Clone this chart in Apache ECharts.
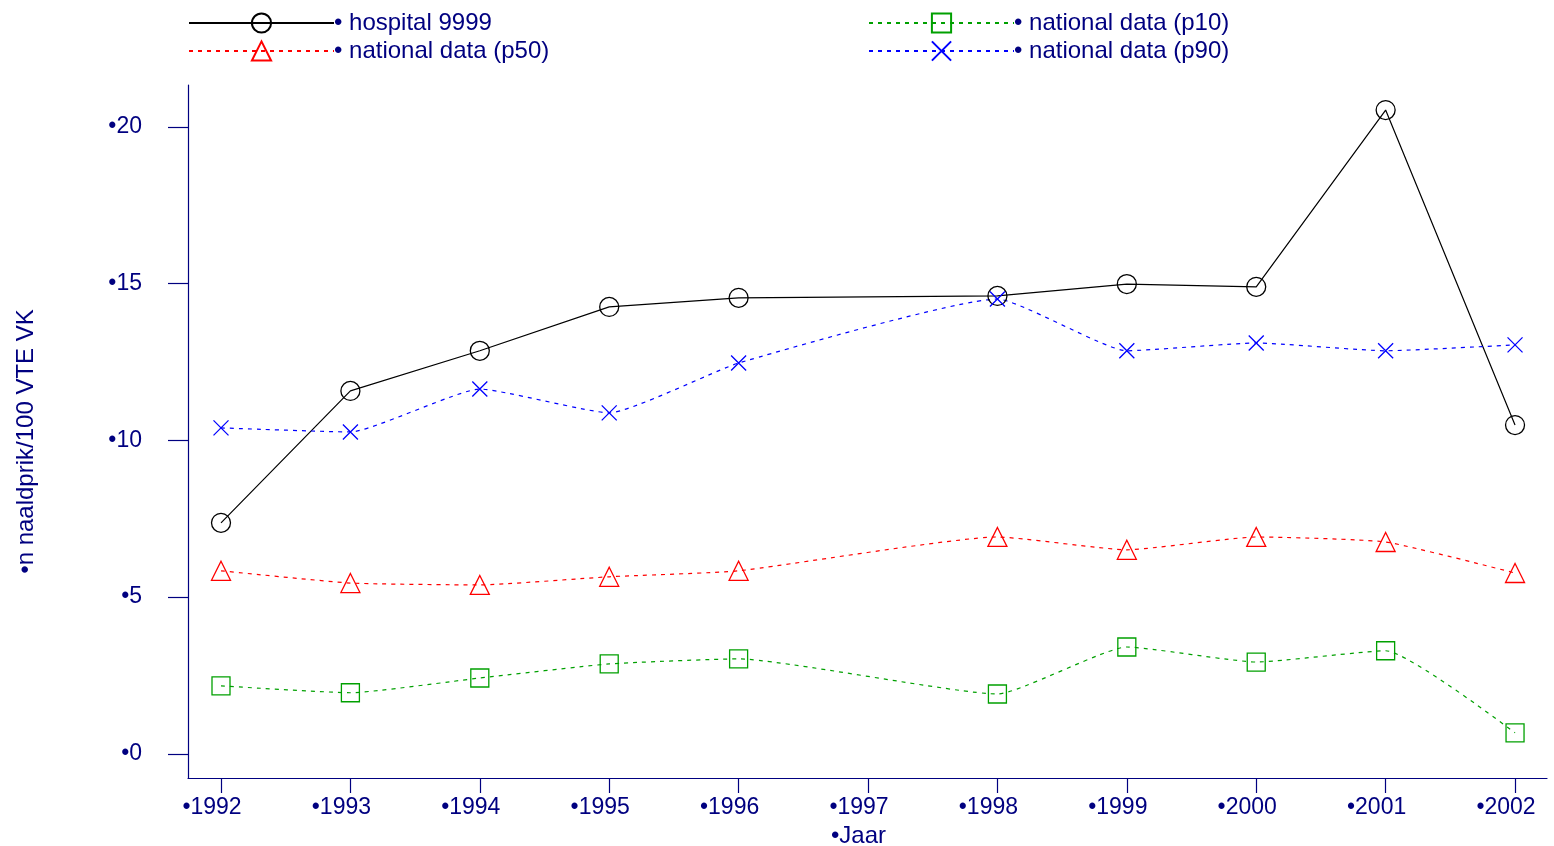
<!DOCTYPE html>
<html>
<head>
<meta charset="utf-8">
<script src="https://cdn.jsdelivr.net/npm/echarts@6/dist/echarts.min.js"></script>
<style>
html,body{margin:0;padding:0;background:#fff;}
#chart{width:1554px;height:846px;}
</style>
</head>
<body>
<div id="chart"></div>
<script>
const years = [1992, 1993, 1994, 1995, 1996, 1998, 1999, 2000, 2001, 2002];
const xTicks = [1992, 1993, 1994, 1995, 1996, 1997, 1998, 1999, 2000, 2001, 2002];
const yTicks = [0, 5, 10, 15, 20];
const hospital = [7.37, 11.58, 12.86, 14.26, 14.55, 14.61, 14.99, 14.90, 20.54, 10.49];
const p10 = [2.17, 1.95, 2.42, 2.87, 3.03, 1.91, 3.41, 2.93, 3.29, 0.67];
const p50 = [5.84, 5.45, 5.39, 5.65, 5.84, 6.92, 6.51, 6.92, 6.76, 5.77];
const p90 = [10.40, 10.27, 11.64, 10.88, 12.47, 14.51, 12.86, 13.11, 12.86, 13.05];
const names = ['hospital 9999', 'national data (p10)', 'national data (p50)', 'national data (p90)'];

const NAVY = '#000080';
const FONT = 'Liberation Sans, Arial, sans-serif';
const pairs = arr => years.map((y, i) => [y, arr[i]]);

function mkSeries(name, data, color, symbol, size, dashed, smooth) {
  return {
    name: name, type: 'line', data: pairs(data),
    symbol: symbol, symbolSize: size, showAllSymbol: true,
    smooth: smooth,
    lineStyle: { color: color, width: 1.2, type: dashed ? [4, 5] : 'solid' },
    itemStyle: { color: 'rgba(0,0,0,0)', borderColor: color, borderWidth: 1.3 },
    emphasis: { disabled: true },
    animation: false,
    z: 3
  };
}

const chart = echarts.init(document.getElementById('chart'), null, { renderer: 'canvas' });
const legendCommon = {
  orient: 'vertical', top: 11, padding: 0, itemWidth: 145, itemHeight: 24, itemGap: 4,
  formatter: n => '\u2022 ' + n,
  textStyle: { color: NAVY, fontSize: 24, fontFamily: FONT, padding: [0, 0, 0, -5] },
  selectedMode: false
};
chart.setOption({
  backgroundColor: '#fff',
  animation: false,
  textStyle: { fontFamily: FONT },
  legend: [
    Object.assign({ left: 188, data: [names[0], names[2]] }, legendCommon),
    Object.assign({ left: 868, data: [names[1], names[3]] }, legendCommon)
  ],
  grid: { left: 188, right: 7, top: 85, bottom: 68, outerBoundsMode: 'none', containLabel: false },
  xAxis: {
    type: 'value', min: 1991.745, max: 2002.247,
    name: '\u2022Jaar', nameLocation: 'middle', nameGap: 44,
    nameTextStyle: { color: NAVY, fontSize: 24, fontFamily: FONT, padding: [0, 18, 0, 0] },
    axisLine: { show: true, onZero: false, lineStyle: { color: NAVY, width: 1.2 } },
    axisTick: { show: true, length: 15, customValues: xTicks, lineStyle: { color: NAVY, width: 1.2 } },
    axisLabel: { customValues: xTicks, margin: 18, color: NAVY, fontSize: 23, fontFamily: FONT,
      padding: [0, 18, 0, 0], formatter: v => '\u2022' + v },
    splitLine: { show: false }
  },
  yAxis: {
    type: 'value', min: -0.77, max: 21.34,
    name: '\u2022n naaldprik/100 VTE VK', nameLocation: 'middle', nameGap: 150, nameRotate: 90,
    nameTextStyle: { color: NAVY, fontSize: 24, fontFamily: FONT, padding: [0, 20, 0, 0] },
    axisLine: { show: true, onZero: false, lineStyle: { color: NAVY, width: 1.2 } },
    axisTick: { show: true, length: 20, customValues: yTicks, lineStyle: { color: NAVY, width: 1.2 } },
    axisLabel: { customValues: yTicks, margin: 46, color: NAVY, fontSize: 23, fontFamily: FONT,
      formatter: v => '\u2022' + v },
    splitLine: { show: false }
  },
  series: [
    mkSeries(names[0], hospital, '#000000', 'circle', 19, false, false),
    mkSeries(names[1], p10, '#00a000', 'rect', 18, true, 0.15),
    mkSeries(names[2], p50, '#ff0000', 'triangle', 19, true, 0.15),
    mkSeries(names[3], p90, '#0000ff', 'path://M0,0L10,10M10,0L0,10', 15, true, 0.15)
  ]
});
</script>
</body>
</html>
